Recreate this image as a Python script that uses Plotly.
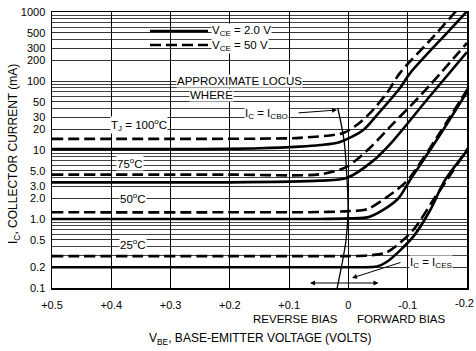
import plotly.graph_objects as go

# ---- axis ticks ----
x_tick_vals = [0.5, 0.4, 0.3, 0.2, 0.1, 0.0, -0.1, -0.2]
x_tick_text = ["+0.5", "+0.4", "+0.3", "+0.2", "+0.1", "0", "-0.1", "-0.2"]
y_tick_vals = [0.1, 0.2, 0.5, 1, 2, 3, 5, 10, 20, 30, 50, 100, 200, 300, 500, 1000]
y_tick_text = ["0.1", "0.2", "0.5", "1.0", "2.0", "3.0", "5.0", "10", "20", "30",
               "50", "100", "200", "300", "500", "1000"]
y_minor_vals = [m * 10.0 ** e for e in range(-1, 3) for m in range(2, 10)]

# ---- curves: VBE (V) vs IC (mA) ----
# TJ = 100 C
v_s100 = [0.5, 0.3, 0.15, 0.082, 0.048, 0.014, -0.025, -0.048, -0.087, -0.104, -0.166, -0.202]
i_s100 = [10.3, 10.3, 10.6, 11.2, 11.8, 13.1, 19.5, 32, 79, 130, 496, 1069]
v_d100 = [0.5, 0.3, 0.15, 0.082, 0.009, -0.014, -0.036, -0.065, -0.087, -0.143, -0.183]
i_d100 = [14.5, 14.5, 14.6, 15.0, 17.6, 23, 34, 67, 131, 435, 1069]
# TJ = 75 C
v_s75 = [0.5, 0.2, 0.048, 0.003, -0.041, -0.075, -0.132, -0.200]
i_s75 = [3.4, 3.4, 3.6, 3.93, 6.9, 13.5, 53, 263]
v_d75 = [0.5, 0.2, 0.048, 0.003, -0.036, -0.075, -0.124, -0.200]
i_d75 = [4.4, 4.4, 4.45, 5.7, 10.7, 23.9, 65, 356]
# TJ = 50 C
v_s50 = [0.5, 0.2, 0.05, 0.0, -0.036, -0.082, -0.104, -0.154, -0.202]
i_s50 = [1.0, 1.0, 1.0, 1.02, 1.08, 1.9, 3.67, 16.4, 74]
v_d50 = [0.5, 0.2, 0.05, 0.0, -0.031, -0.075, -0.100, -0.154, -0.202]
i_d50 = [1.25, 1.25, 1.26, 1.3, 1.38, 2.4, 3.67, 17.6, 79]
# TJ = 25 C
v_s25 = [0.5, 0.2, 0.05, -0.02, -0.048, -0.065, -0.109, -0.138, -0.163, -0.205]
i_s25 = [0.2, 0.2, 0.2, 0.2, 0.205, 0.24, 0.55, 1.35, 3.67, 11]
v_d25 = [0.5, 0.2, 0.05, 0.0, -0.031, -0.065, -0.109, -0.143, -0.166, -0.205]
i_d25 = [0.29, 0.29, 0.29, 0.29, 0.295, 0.33, 0.69, 1.88, 3.67, 11.8]

# approximate locus where IC = ICBO
locus_v = [0.018, 0.0075, 0.0025, 0.0007, 0.004, 0.019]
locus_i = [40.6, 14, 3.93, 1.35, 0.5, 0.1]

FONT = "Liberation Sans, Arial, Helvetica, sans-serif"
DASH = "11px,5px"

series = [
    (v_s100, i_s100, "solid"), (v_d100, i_d100, DASH),
    (v_s75, i_s75, "solid"), (v_d75, i_d75, DASH),
    (v_s50, i_s50, "solid"), (v_d50, i_d50, DASH),
    (v_s25, i_s25, "solid"), (v_d25, i_d25, DASH),
]

fig = go.Figure()
for v, i, d in series:
    fig.add_trace(go.Scatter(
        x=v, y=i, mode="lines",
        line=dict(color="black", width=2.6, dash=d, shape="spline", smoothing=0.8),
        showlegend=False, hoverinfo="skip"))

fig.add_trace(go.Scatter(
    x=locus_v, y=locus_i, mode="lines",
    line=dict(color="black", width=1.3, shape="spline", smoothing=1.0),
    showlegend=False, hoverinfo="skip"))

# plot area (pixels): x 52..467, y 12..288
def px(x):
    return (x - 52) / 415.0

def py(y):
    return (288 - y) / 276.0

shapes = [
    dict(type="line", xref="paper", yref="paper", x0=px(150), x1=px(208), y0=py(31), y1=py(31),
         line=dict(color="black", width=2.6)),
    dict(type="line", xref="paper", yref="paper", x0=px(150), x1=px(208), y0=py(45), y1=py(45),
         line=dict(color="black", width=2.6, dash=DASH)),
]

def lab(text, x, y, xanchor="center", size=11.5, bg="white"):
    return dict(text=text, x=px(x), y=py(y), xref="paper", yref="paper",
                xanchor=xanchor, yanchor="middle", showarrow=False,
                font=dict(family=FONT, size=size, color="black"),
                bgcolor=bg, borderpad=0)

# the last x tick label sits at the right edge; draw it as right-anchored text
x_tick_shown = x_tick_text[:-1] + [""]

annotations = [
    lab("V<sub>CE</sub> = 2.0 V", 211, 31, xanchor="left"),
    lab("V<sub>CE</sub> = 50 V", 211, 46, xanchor="left"),
    lab("APPROXIMATE LOCUS", 239, 81),
    lab("WHERE", 211, 95),
    lab("I<sub>C</sub> = I<sub>CBO</sub>", 266, 114),
    lab("T<sub>J</sub> = 100<sup>o</sup>C", 139, 125),
    lab("75<sup>o</sup>C", 130, 163),
    lab("50<sup>o</sup>C", 133, 198),
    lab("25<sup>o</sup>C", 133, 244),
    lab("I<sub>C</sub> = I<sub>CES</sub>", 431, 263),
    lab("REVERSE BIAS", 295, 319, bg=None),
    lab("FORWARD BIAS", 401, 319, bg=None),
    lab(x_tick_text[-1], 475, 303, xanchor="right", size=11, bg=None),
    lab("V<sub>BE</sub>, BASE-EMITTER VOLTAGE (VOLTS)", 260, 339, size=12, bg=None),
    dict(text="I<sub>C</sub>, COLLECTOR CURRENT (mA)", x=px(14), y=py(154), xref="paper",
         yref="paper", textangle=-90, showarrow=False, xanchor="center", yanchor="middle",
         font=dict(family=FONT, size=12, color="black")),
    # leader arrows
    dict(text="", x=px(352), y=py(278), xref="paper", yref="paper", showarrow=True,
         ax=50, ay=-16, arrowhead=2, arrowsize=1, arrowwidth=1, arrowcolor="black"),
    dict(text="", x=px(337), y=py(110), xref="paper", yref="paper", showarrow=True,
         ax=-40, ay=3, arrowhead=2, arrowsize=1, arrowwidth=1, arrowcolor="black"),
    dict(text="", x=px(310), y=py(283), xref="paper", yref="paper", showarrow=True,
         ax=70, ay=0, arrowhead=2, startarrowhead=2, arrowside="end+start",
         arrowsize=1, arrowwidth=1, arrowcolor="black"),
]

fig.update_layout(
    width=476, height=351,
    margin=dict(l=52, r=9, t=12, b=63, autoexpand=False),
    paper_bgcolor="white", plot_bgcolor="white",
    shapes=shapes, annotations=annotations,
    font=dict(family=FONT, size=11, color="black"),
)
fig.update_xaxes(
    range=[0.5, -0.2], tickvals=x_tick_vals, ticktext=x_tick_shown, automargin=False,
    showgrid=True, gridcolor="black", gridwidth=1, zeroline=False,
    showline=True, mirror=True, linecolor="black", linewidth=1.5,
    ticks="", ticklabelstandoff=6, ticklabeloverflow="allow",
    tickfont=dict(family=FONT, size=11, color="black"),
)
fig.update_yaxes(
    type="log", range=[-1, 3], tickvals=y_tick_vals, ticktext=y_tick_text, automargin=False,
    showgrid=True, gridcolor="#333", gridwidth=1, zeroline=False,
    showline=True, mirror=True, linecolor="black", linewidth=1.5,
    ticks="", ticklabelstandoff=3, ticklabeloverflow="allow",
    tickfont=dict(family=FONT, size=11, color="black"),
    minor=dict(tickvals=y_minor_vals, showgrid=True, gridcolor="#444", gridwidth=1, ticks=""),
)

fig.write_html(
    "out.html",
    config={"displayModeBar": False, "staticPlot": True},
    post_script="document.body.style.margin='0';document.body.style.overflow='hidden';",
)
